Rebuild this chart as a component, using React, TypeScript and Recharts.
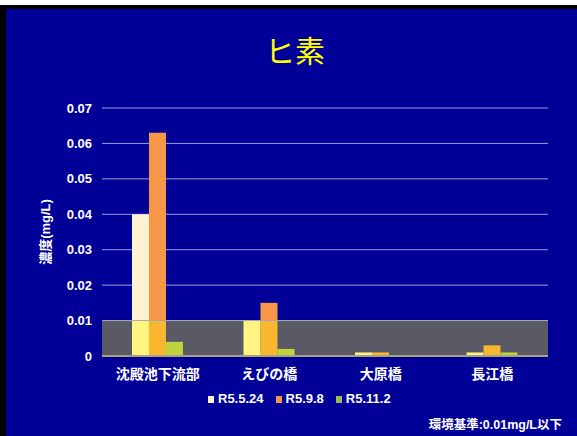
import { BarChart, Bar, XAxis, YAxis, CartesianGrid, ReferenceArea, ReferenceLine } from "recharts";

const sites = ["沈殿池下流部", "えびの橋", "大原橋", "長江橋"];
const seriesNames = ["R5.5.24", "R5.9.8", "R5.11.2"];
const r5_5_24 = [0.04, 0.01, 0.001, 0.001];
const r5_9_8 = [0.063, 0.015, 0.001, 0.003];
const r5_11_2 = [0.004, 0.002, 0, 0.001];
const yTicks = [0, 0.01, 0.02, 0.03, 0.04, 0.05, 0.06, 0.07];
const standard = 0.01;

const colors = ["#FFF2D2", "#F79646", "#9BBB59"];
const bandColors = ["#FFF580", "#F8B72E", "#C0D23E"];

const FONT = "'Liberation Sans', 'Noto Sans CJK JP', sans-serif";

function YLabel({ viewBox }: any) {
  const cx = viewBox.x + 45;
  const cy = viewBox.y + viewBox.height / 2;
  return (
    <text
      x={cx}
      y={cy}
      transform={`rotate(-90 ${cx} ${cy})`}
      textAnchor="middle"
      dominantBaseline="central"
      fill="#fff"
      fontSize={13}
      fontWeight="bold"
      fontFamily={FONT}
    >
      濃度(mg/L)
    </text>
  );
}

export default function App() {
  const series = [r5_5_24, r5_9_8, r5_11_2];
  // split each value at the standard so the part inside the band gets its own colour
  const data = sites.map((name, i) => {
    const row: Record<string, number | string> = { name };
    series.forEach((s, k) => {
      row["low" + k] = Math.min(s[i], standard);
      row["high" + k] = Math.max(s[i] - standard, 0);
    });
    return row;
  });

  return (
    <div style={{ position: "absolute", left: 0, top: 0, width: 577, height: 436, background: "#fff" }}>
      <div style={{ position: "absolute", left: 0, top: 5, width: 577, height: 431, background: "#000" }} />
      <div style={{ position: "absolute", left: 6, top: 9, width: 571, height: 427, background: "#000099" }} />
      <div
        style={{
          position: "absolute",
          left: 0,
          top: 35,
          width: 590,
          textAlign: "center",
          color: "#FFFF00",
          fontFamily: FONT,
          fontSize: 30,
          lineHeight: "34px",
        }}
      >
        ヒ素
      </div>
      <div style={{ position: "absolute", left: 0, top: 0 }}>
        <BarChart
          width={577}
          height={436}
          data={data}
          margin={{ top: 108, right: 29, bottom: 50, left: 0 }}
          barGap={0}
          barSize={17}
        >
          <CartesianGrid vertical={false} stroke="#9C9CD4" strokeWidth={1} />
          <ReferenceArea y1={0} y2={standard} fill="#5A5A66" fillOpacity={1} stroke="none" />
          <XAxis
            dataKey="name"
            height={30}
            tickSize={0}
            tickMargin={13}
            axisLine={{ stroke: "#A8A278", strokeWidth: 2 }}
            tick={{ fill: "#fff", fontSize: 14, fontWeight: "bold", fontFamily: FONT }}
          />
          <YAxis
            width={102}
            domain={[0, 0.07]}
            ticks={yTicks}
            tickSize={0}
            tickMargin={10}
            axisLine={false}
            tick={{ fill: "#fff", fontSize: 13, fontWeight: "bold", fontFamily: FONT }}
            label={{ content: (p: any) => <YLabel viewBox={p.viewBox} /> }}
          />
          <ReferenceLine y={standard} stroke="#A8A8B8" strokeWidth={1} />
          {series.map((_, k) => [
            <Bar key={"low" + k} dataKey={"low" + k} stackId={"s" + k} fill={bandColors[k]} isAnimationActive={false} />,
            <Bar key={"high" + k} dataKey={"high" + k} stackId={"s" + k} fill={colors[k]} isAnimationActive={false} />,
          ])}
        </BarChart>
      </div>
      <div
        style={{
          position: "absolute",
          left: 208,
          top: 391,
          display: "flex",
          alignItems: "center",
          color: "#fff",
          fontFamily: FONT,
          fontSize: 13,
          fontWeight: "bold",
          lineHeight: "16px",
        }}
      >
        {seriesNames.map((n, k) => (
          <div key={n} style={{ display: "flex", alignItems: "center", marginRight: 12 }}>
            <span style={{ display: "inline-block", width: 6, height: 7, background: colors[k], marginRight: 4 }} />
            {n}
          </div>
        ))}
      </div>
      <div
        style={{
          position: "absolute",
          right: 15,
          top: 417,
          color: "#fff",
          fontFamily: FONT,
          fontSize: 12.5,
          fontWeight: "bold",
          lineHeight: "16px",
        }}
      >
        環境基準:0.01mg/L以下
      </div>
    </div>
  );
}
